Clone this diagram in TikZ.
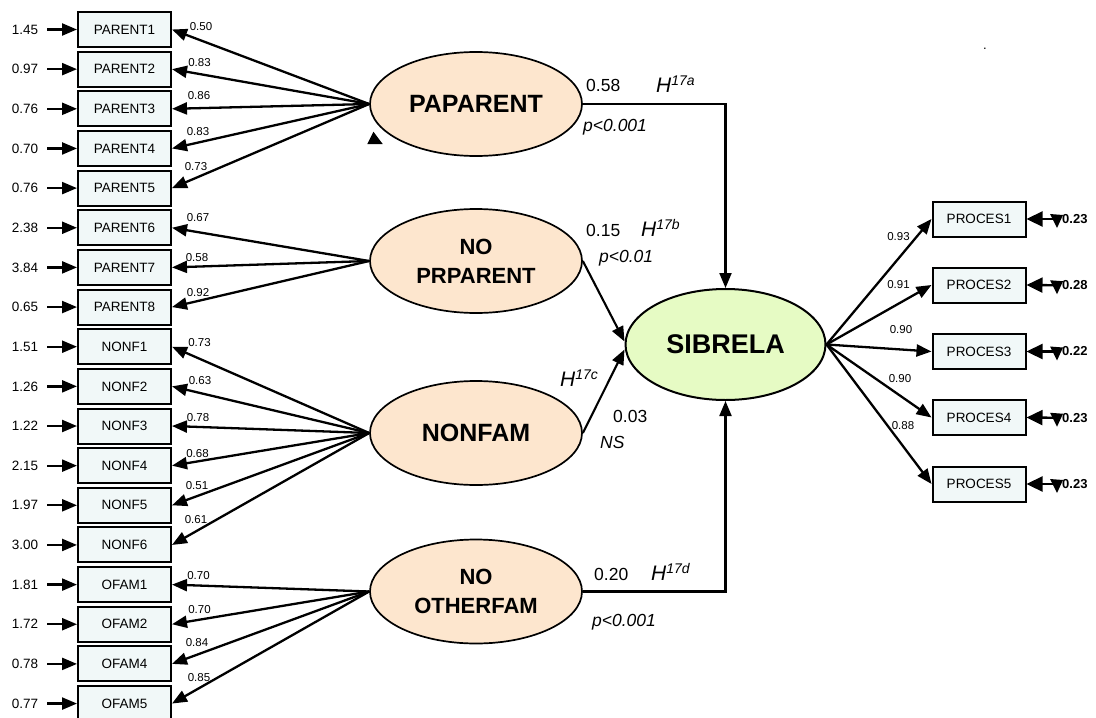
\documentclass[tikz,border=0pt]{standalone}
\usepackage{fontspec}
\setmainfont{Liberation Sans}
\usetikzlibrary{arrows.meta,calc,shapes.geometric}
\definecolor{boxfill}{RGB}{241,248,248}
\definecolor{latfill}{RGB}{253,230,206}
\definecolor{endofill}{RGB}{230,251,196}
% italic hypothesis label with raised index
\newcommand{\hypsup}[1]{\textit{H\raisebox{7pt}{\fontsize{14}{14}\selectfont #1}}}

\begin{document}
\begin{tikzpicture}[x=1pt,y=-1pt,
  ind/.style={draw=black, line width=2pt, fill=boxfill, minimum width=93pt,
    minimum height=35pt, inner sep=0pt, font=\fontsize{13.5}{16}\selectfont},
  lat/.style={ellipse, draw=black, line width=1.7pt, fill=latfill,
    minimum width=212pt, minimum height=104pt, inner sep=0pt, align=center,
    font=\bfseries\fontsize{22}{29}\selectfont},
  errval/.style={font=\fontsize{13.5}{16}\selectfont, inner sep=0pt},
  ldval/.style={font=\fontsize{11.5}{13}\selectfont, inner sep=0pt},
  pl/.style={font=\fontsize{17.5}{20}\selectfont, inner sep=0pt, anchor=base west},
  pli/.style={pl, font=\itshape\fontsize{17.5}{20}\selectfont},
  hl/.style={font=\fontsize{21}{24}\selectfont, inner sep=0pt, anchor=base west},
  tip/.style={-{Triangle[length=15pt,width=12pt]}},
  load/.style={tip, line width=2.3pt},
  errarrow/.style={tip, line width=2.3pt, shorten <=9pt},
  struct/.style={-{Triangle[length=15pt,width=12pt]}, line width=2.1pt},
]
\useasboundingbox (0,0) rectangle (1096,718);

% observed indicators on the left with their error variances
\foreach \lab/\err [count=\i from 0] in {PARENT1/1.45, PARENT2/0.97, PARENT3/0.76,
    PARENT4/0.70, PARENT5/0.76, PARENT6/2.38, PARENT7/3.84, PARENT8/0.65,
    NONF1/1.51, NONF2/1.26, NONF3/1.22, NONF4/2.15, NONF5/1.97, NONF6/3.00,
    OFAM1/1.81, OFAM2/1.72, OFAM4/0.78, OFAM5/0.77} {
  \node[ind] (b\i) at (124.5, {29.5+39.65*\i}) {\lab};
  \node[errval] (e\i) at (25, {29.5+39.65*\i}) {\err};
  \draw[errarrow] (e\i) -- (b\i);
}

% latent constructs
\node[lat, font=\bfseries\fontsize{25}{29}\selectfont] (pa) at (476,104) {PAPARENT};
\node[lat] (npp) at (476,261) {NO\\PRPARENT};
\node[lat, font=\bfseries\fontsize{25}{29}\selectfont] (nf) at (476,433) {NONFAM};
\node[lat] (no) at (476,591.5) {NO\\OTHERFAM};
\node[ellipse, draw=black, line width=2pt, fill=endofill, minimum width=200pt,
  minimum height=111pt, inner sep=0pt,
  font=\bfseries\fontsize{27}{30}\selectfont] (sib) at (725.5,344.5) {SIBRELA};

% factor loadings
\foreach \i in {0,...,4} \draw[load] (pa.west) -- (b\i.east);
\foreach \i in {5,6,7} \draw[load] (npp.west) -- (b\i.east);
\foreach \i in {8,...,13} \draw[load] (nf.west) -- (b\i.east);
\foreach \i in {14,...,17} \draw[load] (no.west) -- (b\i.east);

\foreach \v/\x/\y in {0.50/201/26.5, 0.83/199.5/62.5, 0.86/199/95.5, 0.83/198/132,
    0.73/196/166.5, 0.67/198/218, 0.58/197/258, 0.92/198/293,
    0.73/199.5/343, 0.63/200/381, 0.78/198/418, 0.68/197.5/454, 0.51/197/486,
    0.61/196/520, 0.70/198.5/576, 0.70/199.5/609.5, 0.84/197/643, 0.85/199/678}
  \node[ldval] at (\x,\y) {\v};

% structural paths
\draw[struct] (pa.east) -| (sib.north);
\draw[struct] (no.east) -| (sib.south);
\draw[struct] (npp.east) -- ($(sib.west)+(0,-3)$);
\draw[struct] (nf.east) -- ($(sib.west)+(0,5)$);

\node[pl] at (586,91) {0.58};
\node[hl] at (656,92) {\hypsup{17a}};
\node[pli] at (583,131.5) {p<0.001};
\node[pl] at (586,236) {0.15};
\node[hl] at (641,236) {\hypsup{17b}};
\node[pli] at (599,262.5) {p<0.01};
\node[hl] at (560,386.5) {\hypsup{17c}};
\node[pl] at (613,422) {0.03};
\node[pli] at (600,448) {NS};
\node[pl] at (594,580) {0.20};
\node[hl] at (651,580) {\hypsup{17d}};
\node[pli] at (592,626) {p<0.001};

% outcome indicators on the right
\foreach \y/\v/\r [count=\i] in {219/0.93/237, 285/0.91/284.5, 351.5/0.90/330,
    417.5/0.90/379, 484/0.88/425.5} {
  \node[ind] (p\i) at (979,\y) {PROCES\i};
  \draw[load] (sib.east) -- (p\i.west);
}
\node[ldval] at (898.5,237) {0.93};
\node[ldval] at (898.5,284.5) {0.91};
\node[ldval] at (901,330) {0.90};
\node[ldval] at (900,379) {0.90};
\node[ldval] at (903,425.5) {0.88};

\foreach \v [count=\i] in {0.23, 0.28, 0.22, 0.23, 0.23} {
  \node[font=\bfseries\fontsize{13}{15}\selectfont, inner sep=0pt, anchor=west]
    (r\i) at (1062, {219+66.25*(\i-1)}) {\v};
  \draw[line width=2.3pt, -{Triangle[length=16pt,width=15pt]}, shorten <=2pt]
    (r\i.west) -- (p\i.east);
  \fill ([shift={(-12,-5)}]r\i.west) -- ++(13,1) -- ++(-6,13) -- cycle;
}

% stray marks
\fill (367.3,144) -- (373.4,131.7) -- (382.7,144) -- cycle;
\node[font=\fontsize{13}{15}\selectfont, inner sep=0pt] (dot) at (985,49) {.};
\end{tikzpicture}
\end{document}
